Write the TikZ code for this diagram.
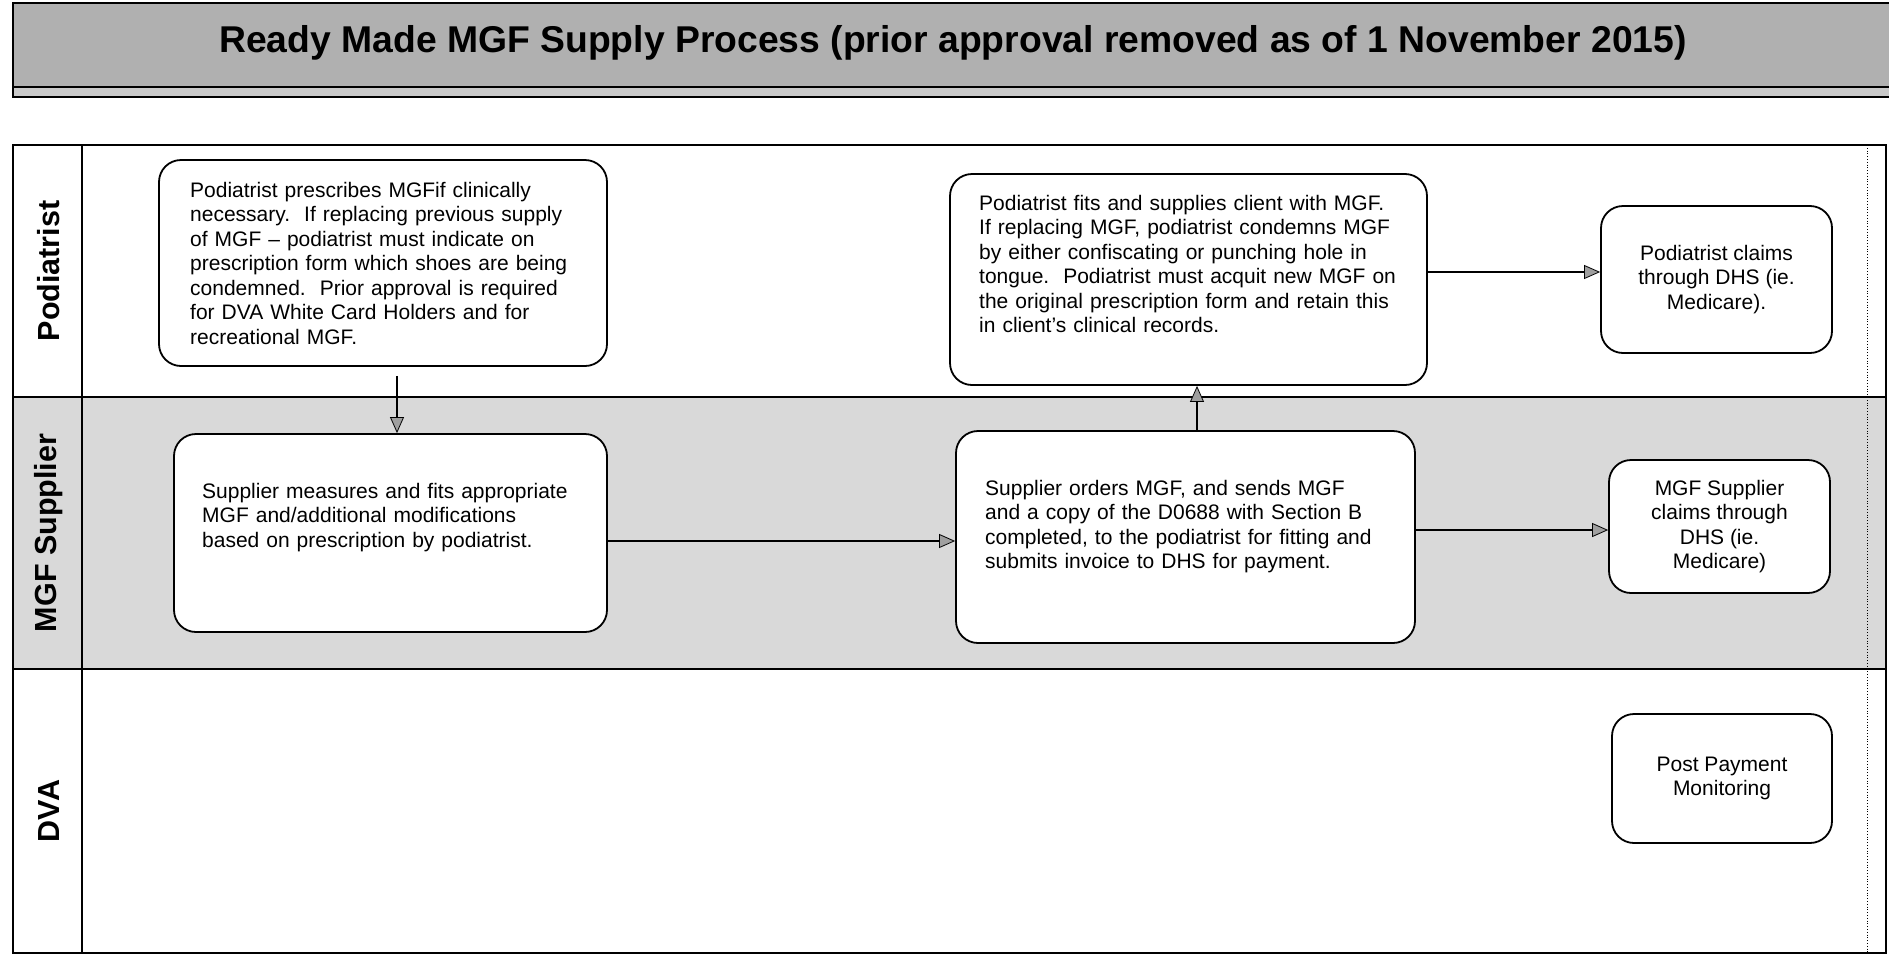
\documentclass[tikz,border=0pt]{standalone}
\usepackage{fontspec}
\setmainfont{Liberation Sans}
\usetikzlibrary{arrows.meta}
\begin{document}
\begin{tikzpicture}[x=1pt,y=-1pt,
  procbox/.style={draw=black,line width=1.8pt,rounded corners=22pt,fill=white,inner sep=0pt},
  boxtxt/.style={inner sep=0pt,font=\fontsize{21}{24.5}\selectfont},
  lanelbl/.style={rotate=90,inner sep=0pt,font=\bfseries\fontsize{30.5}{33}\selectfont},
  flow/.style={line width=1.4pt,-{Triangle[length=16pt,width=14pt,fill=gray!75,line width=0.8pt]}},
  frame/.style={line width=2.2pt}]
\useasboundingbox (0,0) rectangle (1889,956);
% title banner
\fill[gray!62] (13,3) rectangle (1895,87);
\fill[gray!42] (13,87) rectangle (1895,97);
\draw[frame] (1895,3) -- (13,3) -- (13,97) -- (1895,97);
\draw[frame] (13,87) -- (1895,87);
\node[inner sep=0pt,font=\bfseries\fontsize{37.3}{42}\selectfont] (title) at (953,43) {Ready Made MGF Supply Process (prior approval removed as of 1 November 2015)};
% swimlanes
\fill[gray!30] (13,397) rectangle (1886,669);
\draw[frame] (13,145) rectangle (1886,953);
\draw[frame] (82,145) -- (82,953);
\draw[frame] (13,397) -- (1886,397);
\draw[frame] (13,669) -- (1886,669);
\draw[line width=0.8pt,dotted] (1867,145) -- (1867,953);
\node[lanelbl] (lp) at (49,271) {Podiatrist};
\node[lanelbl] (ls) at (49,533) {MGF Supplier};
\node[lanelbl] (ld) at (49,811) {DVA};
% boxes
\node[procbox,minimum width=448pt,minimum height=206pt] (b1) at (383,263) {};
\node[boxtxt,anchor=base west,text width=420pt,align=left] (t1) at (190,197) {Podiatrist prescribes MGFif clinically\\necessary.\ \ If replacing previous supply\\of MGF -- podiatrist must indicate on\\prescription form which shoes are being\\condemned.\ \ Prior approval is required\\for DVA White Card Holders and for\\recreational MGF.};
\node[procbox,minimum width=477pt,minimum height=211pt] (b2) at (1188.5,279.5) {};
\node[boxtxt,anchor=base west,text width=440pt,align=left] (t2) at (979,210) {Podiatrist fits and supplies client with MGF.\\If replacing MGF, podiatrist condemns MGF\\by either confiscating or punching hole in\\tongue.\ \ Podiatrist must acquit new MGF on\\the original prescription form and retain this\\in client's clinical records.};
\node[procbox,minimum width=231pt,minimum height=147pt,boxtxt,align=center] (b3) at (1716.5,279.5) {Podiatrist claims\\through DHS (ie.\\Medicare).};
\node[procbox,minimum width=433pt,minimum height=198pt] (b4) at (390.5,533) {};
\node[boxtxt,anchor=base west,text width=400pt,align=left] (t4) at (202,498) {Supplier measures and fits appropriate\\MGF and/additional modifications\\based on prescription by podiatrist.};
\node[procbox,minimum width=459pt,minimum height=212pt] (b5) at (1185.5,537) {};
\node[boxtxt,anchor=base west,text width=420pt,align=left] (t5) at (985,495) {Supplier orders MGF, and sends MGF\\and a copy of the D0688 with Section B\\completed, to the podiatrist for fitting and\\submits invoice to DHS for payment.};
\node[procbox,minimum width=221pt,minimum height=133pt,boxtxt,align=center] (b6) at (1719.5,526.5) {MGF Supplier\\claims through\\DHS (ie.\\Medicare)};
\node[procbox,minimum width=220pt,minimum height=129pt,boxtxt,align=center] (b7) at (1722,778.5) {Post Payment\\Monitoring};
% connectors
\coordinate (a1s) at ([xshift=14pt,yshift=-9pt]b1.south);
\draw[flow] (a1s) -- (a1s |- b4.north);
\coordinate (a2s) at ([yshift=-8pt]b4.east);
\draw[flow] (a2s) -- (a2s -| b5.west);
\coordinate (a3s) at ([xshift=11.5pt]b5.north);
\draw[flow] (a3s) -- (a3s |- b2.south);
\coordinate (a4s) at ([yshift=7.5pt]b2.east);
\draw[flow] (a4s) -- (a4s -| b3.west);
\coordinate (a5s) at ([yshift=7pt]b5.east);
\draw[flow] (a5s) -- (a5s -| b6.west);
\end{tikzpicture}
\end{document}
